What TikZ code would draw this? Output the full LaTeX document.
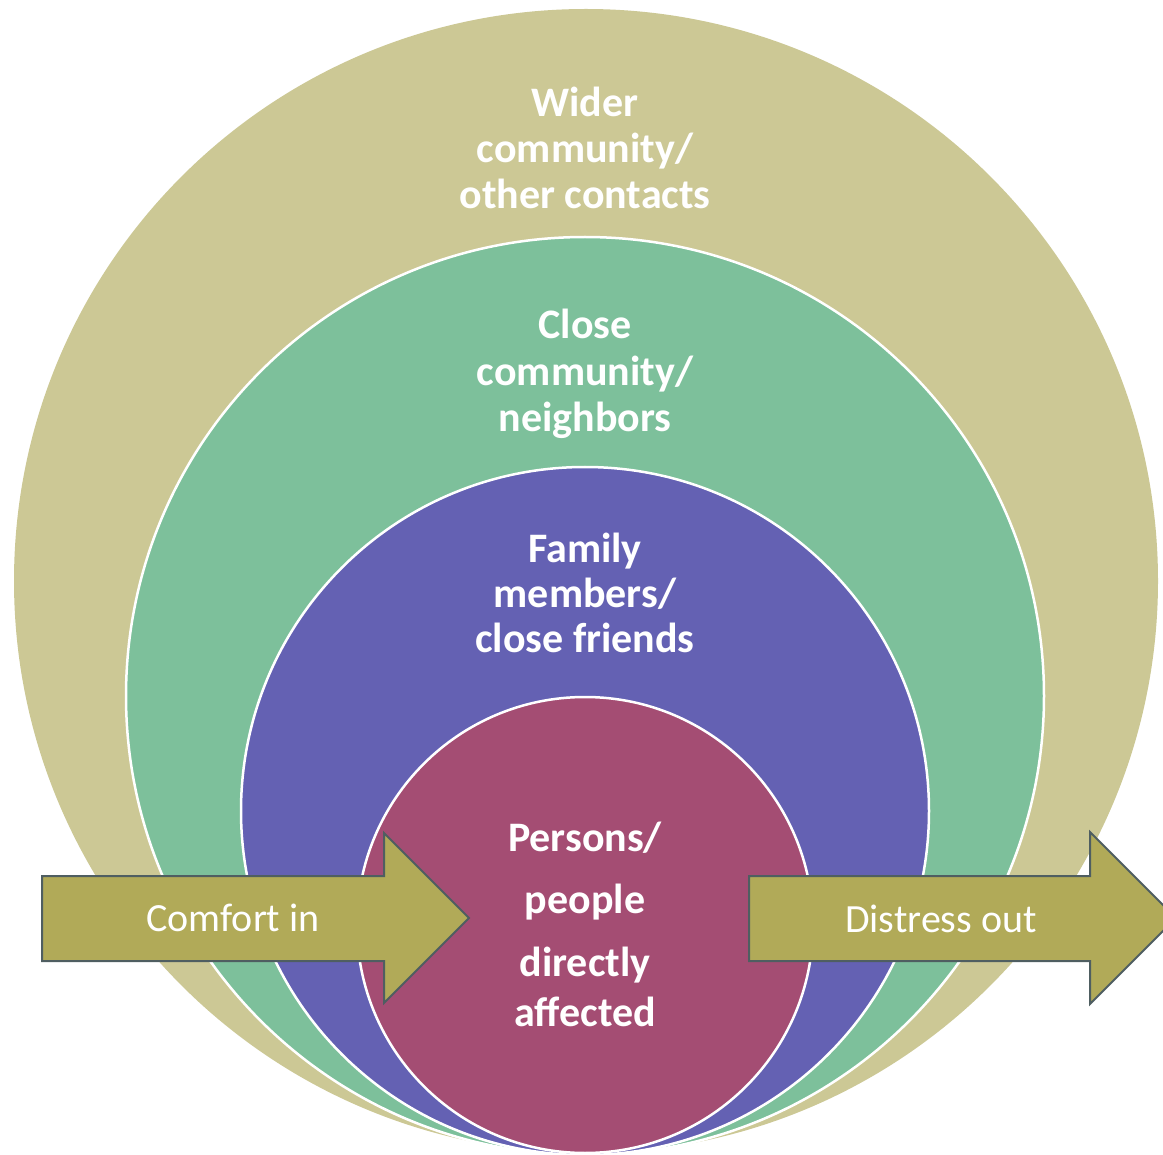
\documentclass[tikz,border=0pt]{standalone}
\usepackage{fontspec}
\setmainfont{Carlito}
\definecolor{ringWide}{HTML}{CCC895}
\definecolor{ringClose}{HTML}{7DC09B}
\definecolor{ringFamily}{HTML}{6461B3}
\definecolor{ringCore}{HTML}{A44D73}
\definecolor{arrowFill}{HTML}{B1AA58}
\definecolor{arrowEdge}{HTML}{4F5E61}
\tikzset{
  ring/.style={draw=white, line width=2.5pt},
  label/.style={text=white, font=\fontsize{42}{46}\selectfont\bfseries, anchor=base, inner sep=0pt},
  bigarrow/.style={fill=arrowFill, draw=arrowEdge, line width=2pt, line join=miter},
  arrowtext/.style={text=white, font=\fontsize{40}{46}\selectfont, anchor=base, inner sep=0pt}
}
\begin{document}
\begin{tikzpicture}[x=1pt,y=-1pt]
\useasboundingbox (0,0) rectangle (1163,1155);
\clip (0,0) rectangle (1163,1155);
\fill[white] (0,0) rectangle (1163,1155);

% nested circles, all touching near the bottom
\coordinate (cWide) at (586,581);
\coordinate (cClose) at (585,696);
\coordinate (cFamily) at (585,811);
\coordinate (cCore) at (585,925);
\fill[ringWide] (cWide) circle[radius=572];
\filldraw[ring, fill=ringClose] (cClose) circle[radius=459];
\filldraw[ring, fill=ringFamily] (cFamily) circle[radius=344];
\filldraw[ring, fill=ringCore] (cCore) circle[radius=228];

% ring labels
\node[label] (w1) at (585,117) {Wider};
\node[label] (w2) at (585,163) {community/};
\node[label] (w3) at (585,209) {other contacts};
\node[label] (c1) at (585,339) {Close};
\node[label] (c2) at (585,386) {community/};
\node[label] (c3) at (585,432) {neighbors};
\node[label] (f1) at (585,562) {Family};
\node[label] (f2) at (585,607) {members/};
\node[label] (f3) at (585,652) {close friends};
\node[label] (p1) at (585,851) {Persons/};
\node[label] (p2) at (585,913) {people};
\node[label] (p3) at (585,976) {directly};
\node[label] (p4) at (585,1026) {affected};

% block arrows
\draw[bigarrow] (42,876) -- (384,876) -- (384,833) -- (469,918) -- (384,1003) -- (384,961) -- (42,961) -- cycle;
\draw[bigarrow] (749,876) -- (1090,876) -- (1090,832) -- (1176,918) -- (1090,1004) -- (1090,961) -- (749,961) -- cycle;
\node[arrowtext] (comfort) at (233,931) {Comfort in};
\node[arrowtext] (distress) at (941,932) {Distress out};
\end{tikzpicture}
\end{document}
